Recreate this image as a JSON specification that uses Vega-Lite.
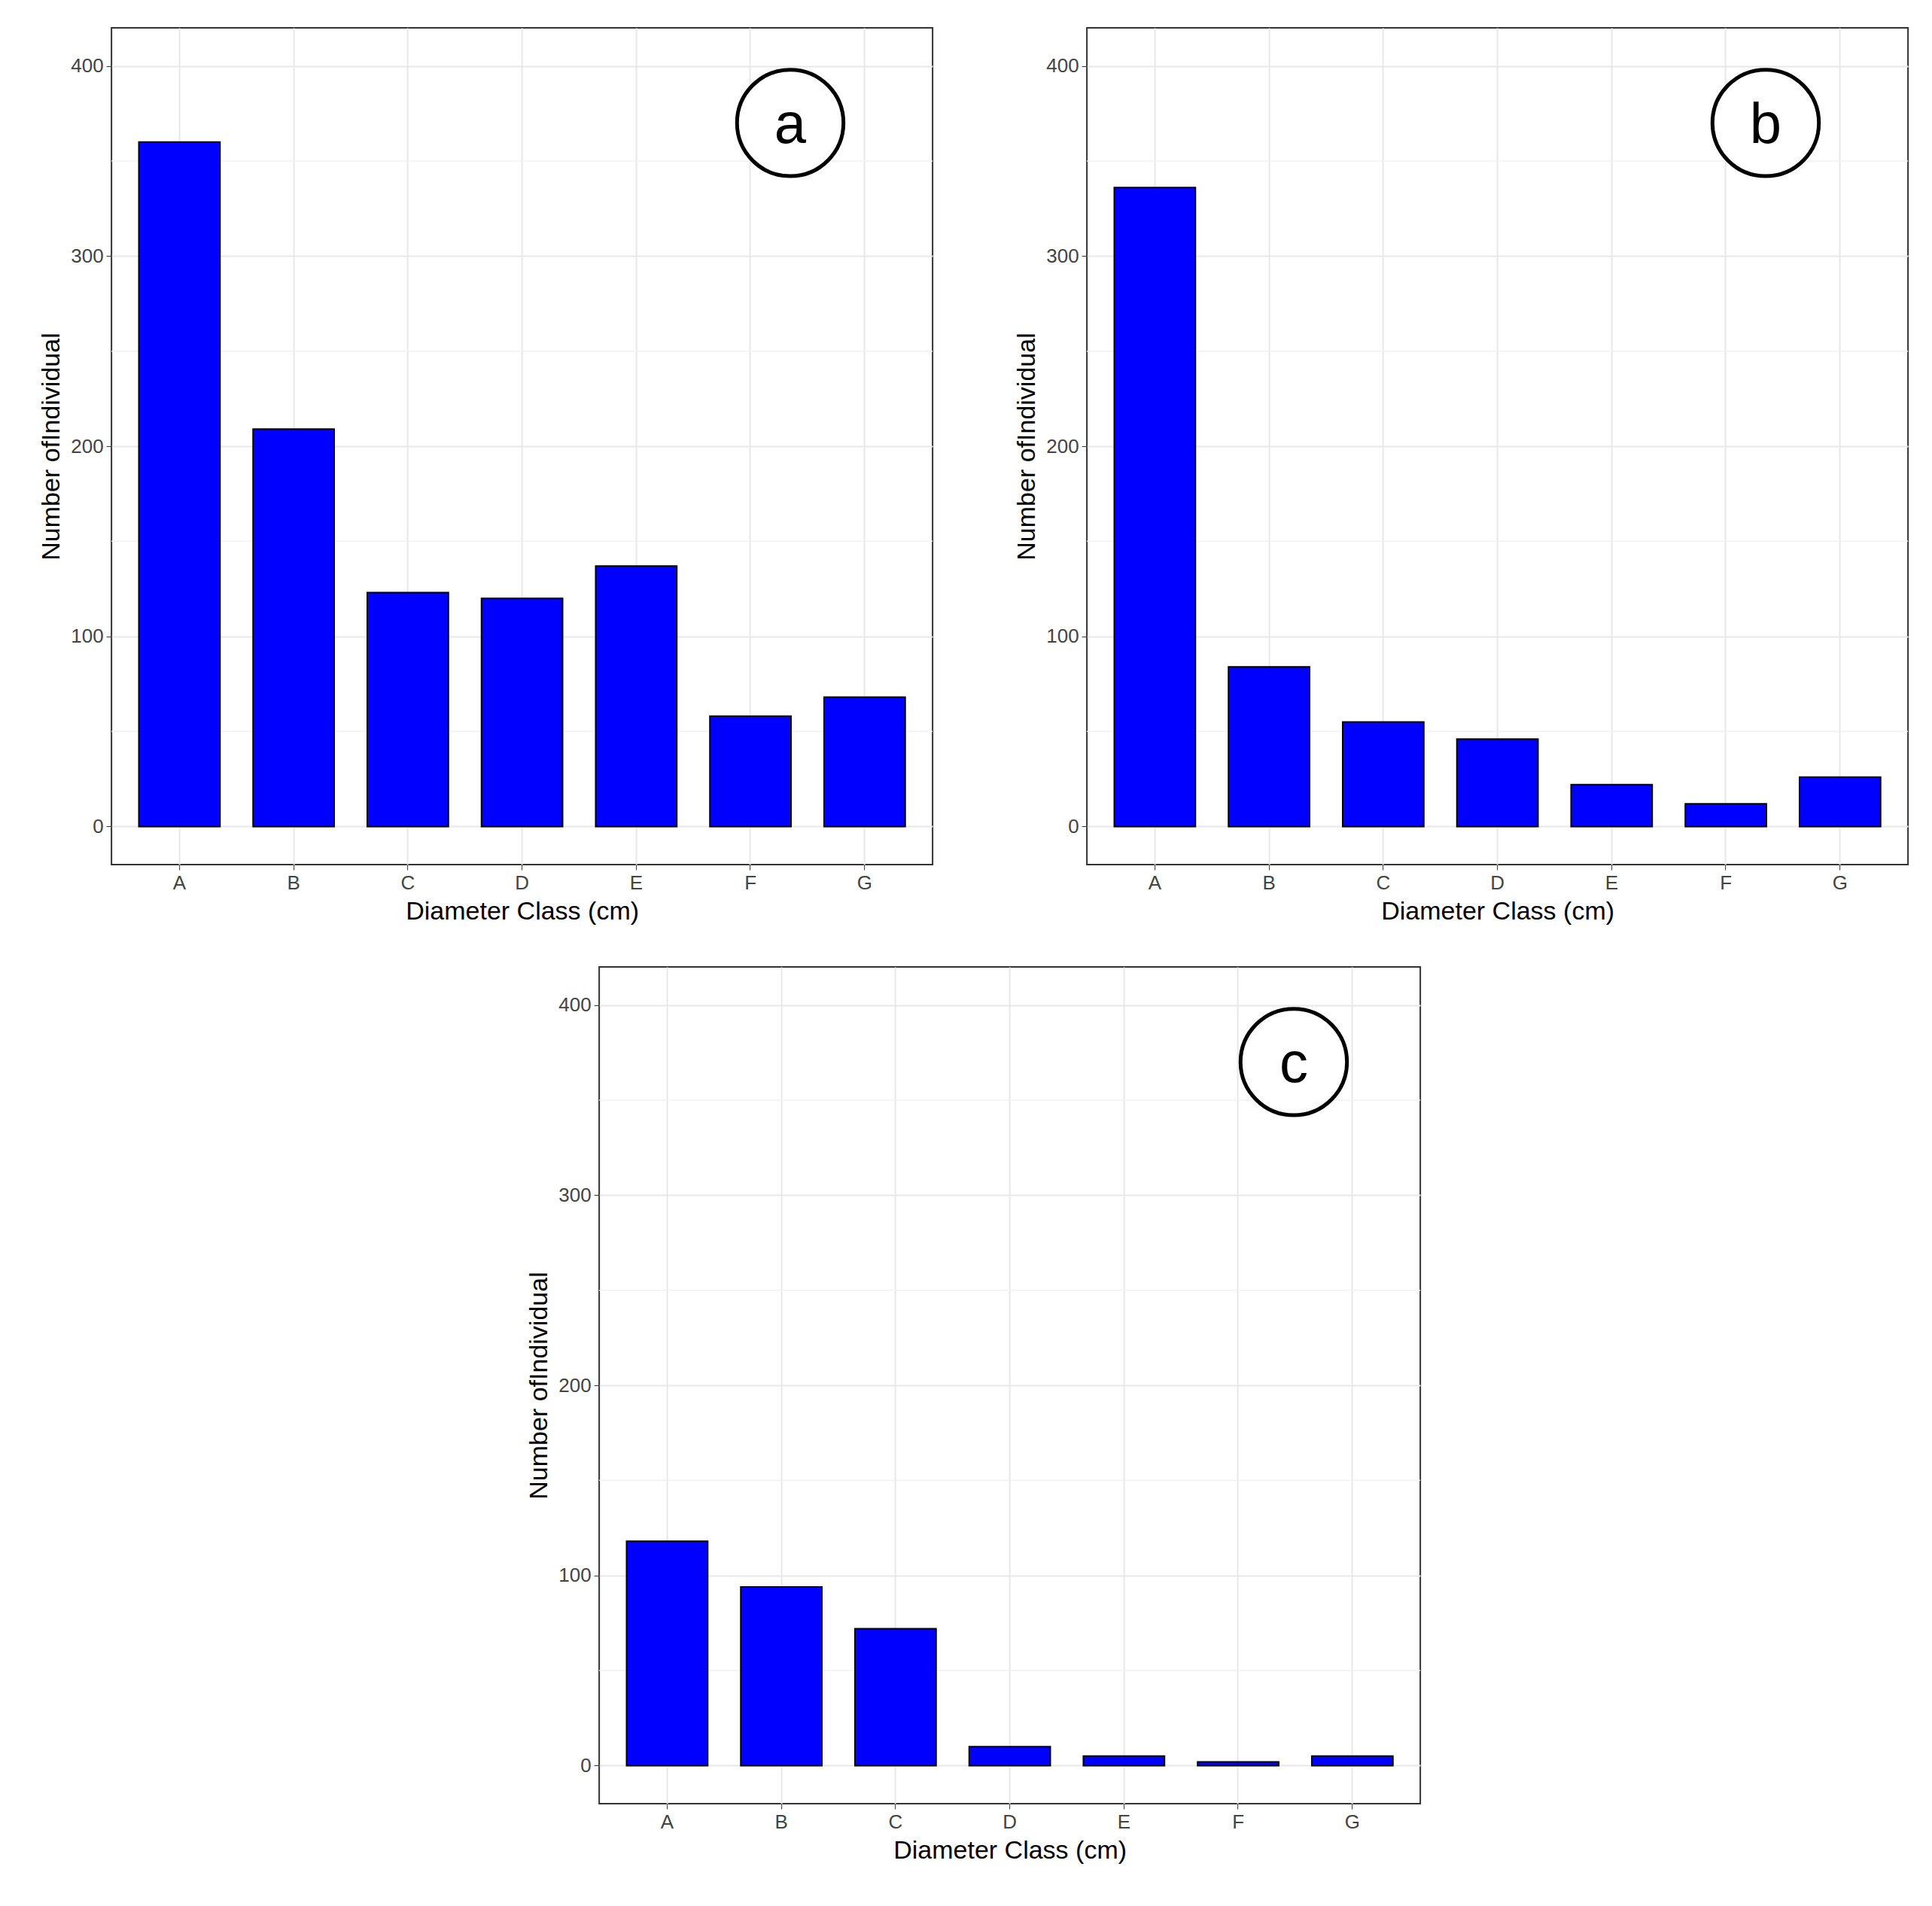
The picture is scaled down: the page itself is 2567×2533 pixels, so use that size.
{
  "$schema": "https://vega.github.io/schema/vega-lite/v6.json",
  "background": "white",
  "padding": {"left": 50, "top": 36, "right": 10, "bottom": 10},
  "config": {
    "font": "Liberation Sans",
    "view": {"stroke": "#333333", "strokeWidth": 2},
    "axis": {"labelFontSize": 26, "titleFontSize": 34, "titleFontWeight": "normal", "labelColor": "#444444", "titleColor": "black", "domain": false, "tickColor": "#333333", "tickSize": 7, "gridColor": "#e8e8e8", "gridWidth": 2, "labelPadding": 4, "titlePadding": 8}
  },
  "datasets": {
    "a": [{"cls":"A","n":360},{"cls":"B","n":209},{"cls":"C","n":123},{"cls":"D","n":120},{"cls":"E","n":137},{"cls":"F","n":58},{"cls":"G","n":68}],
    "b": [{"cls":"A","n":336},{"cls":"B","n":84},{"cls":"C","n":55},{"cls":"D","n":46},{"cls":"E","n":22},{"cls":"F","n":12},{"cls":"G","n":26}],
    "c": [{"cls":"A","n":118},{"cls":"B","n":94},{"cls":"C","n":72},{"cls":"D","n":10},{"cls":"E","n":5},{"cls":"F","n":2},{"cls":"G","n":5}],
    "minor": [{"v":50},{"v":150},{"v":250},{"v":350}],
    "one": [{"k":1}]
  },
  "vconcat": [
    {
      "hconcat": [
        {
          "width": 1091, "height": 1112,
          "layer": [
            {"data": {"name": "minor"}, "mark": {"type": "rule", "color": "#f2f2f2", "strokeWidth": 1.5}, "encoding": {"y": {"field": "v", "type": "quantitative", "scale": {"domain": [-20, 420], "nice": false}}}},
            {"data": {"name": "a"}, "mark": {"type": "bar", "color": "#0000ff", "stroke": "black", "strokeWidth": 2},
             "encoding": {
               "x": {"field": "cls", "type": "nominal", "title": "Diameter Class (cm)", "scale": {"paddingInner": 0.29, "paddingOuter": 0.24}, "axis": {"labelAngle": 0, "grid": true}},
               "y": {"field": "n", "type": "quantitative", "title": "Number ofIndividual", "scale": {"domain": [-20, 420], "nice": false}, "axis": {"values": [0,100,200,300,400]}}}},
            {"data": {"name": "one"}, "mark": {"type": "point", "shape": "circle", "size": 20000, "stroke": "black", "strokeWidth": 5, "fill": "white", "opacity": 1},
             "encoding": {"x": {"datum": "G"}, "xOffset": {"value": -45}, "y": {"datum": 370}}},
            {"data": {"name": "one"}, "mark": {"type": "text", "fontSize": 76, "baseline": "middle", "dy": 4},
             "encoding": {"x": {"datum": "G"}, "xOffset": {"value": -45}, "y": {"datum": 370}, "text": {"value": "a"}}}
          ]
        },
        {
          "width": 1091, "height": 1112,
          "layer": [
            {"data": {"name": "minor"}, "mark": {"type": "rule", "color": "#f2f2f2", "strokeWidth": 1.5}, "encoding": {"y": {"field": "v", "type": "quantitative", "scale": {"domain": [-20, 420], "nice": false}}}},
            {"data": {"name": "b"}, "mark": {"type": "bar", "color": "#0000ff", "stroke": "black", "strokeWidth": 2},
             "encoding": {
               "x": {"field": "cls", "type": "nominal", "title": "Diameter Class (cm)", "scale": {"paddingInner": 0.29, "paddingOuter": 0.24}, "axis": {"labelAngle": 0, "grid": true}},
               "y": {"field": "n", "type": "quantitative", "title": "Number ofIndividual", "scale": {"domain": [-20, 420], "nice": false}, "axis": {"values": [0,100,200,300,400]}}}},
            {"data": {"name": "one"}, "mark": {"type": "point", "shape": "circle", "size": 20000, "stroke": "black", "strokeWidth": 5, "fill": "white", "opacity": 1},
             "encoding": {"x": {"datum": "G"}, "xOffset": {"value": -45}, "y": {"datum": 370}}},
            {"data": {"name": "one"}, "mark": {"type": "text", "fontSize": 76, "baseline": "middle", "dy": 4},
             "encoding": {"x": {"datum": "G"}, "xOffset": {"value": -45}, "y": {"datum": 370}, "text": {"value": "b"}}}
          ]
        }
      ],
      "spacing": 105
    },
    {
      "width": 1091, "height": 1112,
      "layer": [
        {"data": {"name": "minor"}, "mark": {"type": "rule", "color": "#f2f2f2", "strokeWidth": 1.5}, "encoding": {"y": {"field": "v", "type": "quantitative", "scale": {"domain": [-20, 420], "nice": false}}}},
        {"data": {"name": "c"}, "mark": {"type": "bar", "color": "#0000ff", "stroke": "black", "strokeWidth": 2},
         "encoding": {
           "x": {"field": "cls", "type": "nominal", "title": "Diameter Class (cm)", "scale": {"paddingInner": 0.29, "paddingOuter": 0.24}, "axis": {"labelAngle": 0, "grid": true}},
           "y": {"field": "n", "type": "quantitative", "title": "Number ofIndividual", "scale": {"domain": [-20, 420], "nice": false}, "axis": {"values": [0,100,200,300,400]}}}},
        {"data": {"name": "one"}, "mark": {"type": "point", "shape": "circle", "size": 20000, "stroke": "black", "strokeWidth": 5, "fill": "white", "opacity": 1},
         "encoding": {"x": {"datum": "G"}, "xOffset": {"value": -24}, "y": {"datum": 370}}},
        {"data": {"name": "one"}, "mark": {"type": "text", "fontSize": 76, "baseline": "middle", "dy": 4},
         "encoding": {"x": {"datum": "G"}, "xOffset": {"value": -24}, "y": {"datum": 370}, "text": {"value": "c"}}}
      ]
    }
  ],
  "spacing": 55,
  "center": true
}
